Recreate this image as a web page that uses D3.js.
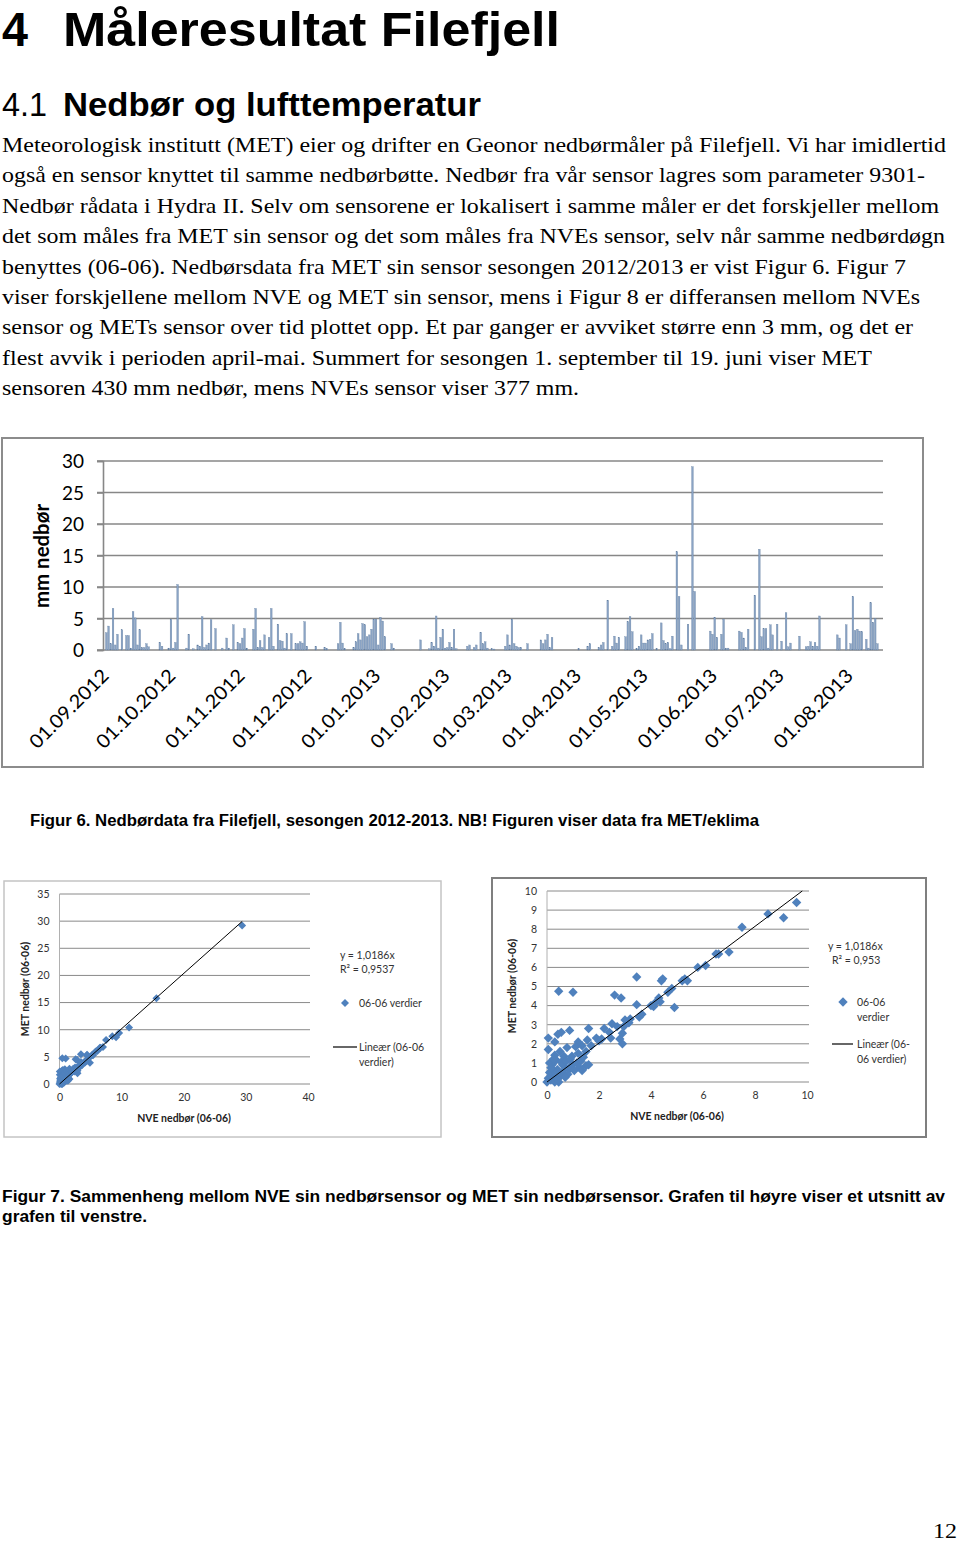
<!DOCTYPE html>
<html>
<head>
<meta charset="utf-8">
<script src="https://cdn.jsdelivr.net/npm/d3@7"></script>
<style>
  body { margin: 0; background: #fff; }
  svg { display: block; }
</style>
</head>
<body>
<svg id="page"></svg>
<script>
// ---- text content ----
const heading1 = ['4', 'Måleresultat Filefjell']
const heading2 = ['4.1', 'Nedbør og lufttemperatur']
const bodyLines = [
  'Meteorologisk institutt (MET) eier og drifter en Geonor nedbørmåler på Filefjell. Vi har imidlertid',
  'også en sensor knyttet til samme nedbørbøtte. Nedbør fra vår sensor lagres som parameter 9301-',
  'Nedbør rådata i Hydra II. Selv om sensorene er lokalisert i samme måler er det forskjeller mellom',
  'det som måles fra MET sin sensor og det som måles fra NVEs sensor, selv når samme nedbørdøgn',
  'benyttes (06-06). Nedbørsdata fra MET sin sensor sesongen 2012/2013 er vist Figur 6. Figur 7',
  'viser forskjellene mellom NVE og MET sin sensor, mens i Figur 8 er differansen mellom NVEs',
  'sensor og METs sensor over tid plottet opp. Et par ganger er avviket større enn 3 mm, og det er',
  'flest avvik i perioden april-mai.  Summert for sesongen 1. september til 19. juni viser MET',
  'sensoren 430 mm nedbør, mens NVEs sensor viser 377 mm.'
]
const caption6 = 'Figur 6. Nedbørdata fra Filefjell, sesongen 2012-2013. NB! Figuren viser data fra MET/eklima'
const caption7 = [
  'Figur 7. Sammenheng mellom NVE sin nedbørsensor og MET sin nedbørsensor. Grafen til høyre viser et utsnitt av',
  'grafen til venstre.'
]
const pageNumber = '12'

// ---- figur 6: daily precipitation (MET), day number counted from 01.09.2012 ----
const seasonStart = '2012-09-01'
const seasonDays = 350
const yTicks6 = [0, 5, 10, 15, 20, 25, 30]
const wetDay = [
  1, 2, 3, 4, 5, 6, 8, 10, 11, 12, 13, 14, 15, 16, 17, 18, 19, 20, 25, 26, 29, 30, 31, 32, 33,
  37, 38, 40, 42, 43, 44, 45, 46, 47, 48, 50, 53, 55, 56, 58, 60, 61, 62, 63, 64, 67, 68, 69, 70,
  71, 72, 74, 75, 76, 78, 79, 80, 81, 82, 84, 86, 87, 88, 89, 90, 91, 95, 99, 100, 105, 106, 107,
  108, 112, 113, 114, 115, 116, 117, 118, 119, 120, 121, 122, 123, 124, 125, 126, 129, 130, 142,
  146, 147, 148, 149, 150, 151, 152, 153, 154, 155, 156, 157, 158, 163, 164, 166, 167, 169, 170,
  171, 172, 174, 175, 180, 181, 182, 183, 184, 185, 186, 187, 190, 196, 197, 198, 199, 200, 201,
  213, 217, 218, 222, 223, 224, 226, 228, 229, 230, 231, 234, 235, 236, 237, 239, 240, 241, 242,
  243, 244, 245, 246, 248, 250, 251, 252, 253, 254, 255, 257, 258, 259, 262, 264, 265, 272, 273,
  274, 275, 277, 278, 279, 280, 285, 286, 287, 288, 289, 292, 294, 295, 296, 297, 298, 299, 300,
  302, 304, 306, 307, 308, 312, 315, 316, 317, 318, 319, 320, 321, 329, 330, 333, 335, 336, 337,
  338, 339, 340, 342, 343, 344, 345, 346, 347
]
const wetMm = [
  2.75, 3.8, 1.0, 6.6, 0.8, 2.5, 3.2, 2.3, 2.3, 0.3, 6.1, 5.1, 0.8, 3.2, 0.4, 0.4, 1.0, 0.5, 1.2, 0.6, 0.3, 4.9, 0.3, 1.2, 10.4,
  0.3, 2.5, 0.2, 0.8, 0.6, 5.3, 0.4, 0.8, 1.1, 4.8, 3.4, 0.3, 1.9, 0.3, 4.0, 1.2, 1.0, 1.9, 3.4, 0.3, 3.3, 6.6, 0.4, 1.5,
  0.4, 2.4, 2.0, 6.6, 0.6, 4.1, 1.5, 1.4, 0.3, 2.6, 2.6, 1.0, 1.0, 1.3, 1.1, 4.5, 0.6, 0.6, 0.4, 0.2, 1.0, 4.4, 1.1,
  0.2, 0.4, 1.3, 2.6, 1.6, 4.2, 4.0, 2.1, 2.4, 3.3, 4.9, 4.9, 0.8, 5.2, 4.6, 2.1, 1.0, 0.3, 1.6,
  0.2, 1.2, 0.6, 5.4, 0.3, 2.0, 3.3, 0.3, 0.4, 1.2, 0.4, 3.3, 0.2, 0.6, 0.8, 0.4, 0.8, 2.8, 1.0,
  1.3, 0.3, 0.2, 0.15, 0.6, 2.4, 0.8, 4.9, 1.0, 0.6, 0.4, 0.4, 1.0, 1.6, 1.0, 1.6, 2.5, 0.4, 2.0,
  0.2, 0.6, 1.0, 0.4, 0.8, 1.2, 7.9, 0.6, 2.2, 1.1, 2.0, 2.1, 4.5, 5.3, 2.9, 0.2, 0.6, 2.4, 1.1,
  1.1, 1.6, 1.7, 2.6, 0.2, 4.3, 1.5, 1.0, 1.2, 0.2, 2.2, 15.6, 8.5, 0.8, 4.1, 29.1, 9.3, 3.0, 2.5,
  5.2, 2.0, 2.5, 4.9, 0.3, 0.3, 3.0, 2.8, 1.9, 0.4, 3.3, 8.7, 16.0, 2.1, 3.4, 3.4, 0.3, 4.0, 2.4,
  4.1, 1.4, 5.9, 0.5, 1.1, 2.2, 0.5, 0.6, 1.3, 0.6, 1.2, 0.6, 5.4, 2.4, 1.9, 4.0, 1.0, 8.5, 3.1,
  3.3, 3.0, 2.9, 1.7, 0.3, 7.5, 4.4, 5.0, 1.0
]

// ---- figur 7: NVE vs MET (06-06 values) ----
const nveMm = [
  29.4, 15.6, 11.2, 9.6, 9.1, 8.5, 7.5, 7.0, 6.6, 6.5, 6.1, 5.8, 5.4, 5.3, 5.2, 4.9, 4.8, 4.65, 4.4, 4.45,
  4.35, 4.3, 4.2, 4.1, 4.0, 3.65, 3.55, 3.45, 3.45, 3.2, 3.15, 3.0, 2.95, 2.9, 2.8, 2.85, 2.6, 2.9, 2.7, 2.5,
  2.4, 2.2, 1.9, 1.7, 1.6, 1.55, 1.6, 1.5, 1.5, 1.35, 1.2, 1.1, 1.0, 0.45, 0.87, 0.55, 0.42, 0.3, 0.05, 0.05,
  0.77, 0.96, 2.45, 2.0, 2.1, 0.9, 0.7, 0.6, 0.4, 0.25, 0.15, 0.2, 0.35, 0.55, 0.65, 0.85, 1.0, 1.15, 1.3, 1.25,
  1.4, 0.1, 0.05, 0.3, 0.45, 0.2, 0.5, 0.8, 1.05, 0.3, 0.1, 0.6, 0.75, 0.15, 0.0, 0.35, 1.2, 0.9, 0.5, 0.25,
  0.7, 1.35, 0.4
]
const metMm = [
  29.2, 15.8, 10.4, 9.4, 8.6, 8.8, 8.1, 6.8, 6.7, 6.7, 6.1, 6.0, 5.3, 5.4, 5.3, 3.9, 4.9, 4.7, 5.3, 5.4,
  4.2, 4.4, 4.2, 3.95, 4.0, 3.55, 3.4, 5.5, 4.05, 3.3, 3.1, 3.25, 2.9, 2.0, 2.25, 4.4, 4.55, 2.55, 2.9, 3.05,
  2.6, 2.8, 2.3, 1.9, 2.8, 2.2, 0.9, 0.85, 1.6, 1.9, 2.1, 1.85, 4.7, 4.75, 2.7, 2.6, 2.5, 2.1, 2.3, 1.7,
  1.8, 1.35, 2.3, 2.15, 2.25, 0.8, 0.75, 0.5, 0.65, 0.3, 0.1, 0.9, 1.15, 1.05, 1.35, 0.65, 0.9, 1.0, 1.1, 0.75,
  1.3, 0.5, 0.2, 0.0, 0.0, 0.6, 0.3, 0.4, 0.6, 1.4, 1.0, 0.9, 1.1, 0.75, 0.0, 0.45, 1.5, 1.2, 1.6, 1.2,
  0.25, 0.6, 0.15
]
const trendSlope = 1.0186
const legendFull = ['y = 1,0186x', 'R² = 0,9537']
const legendZoom = ['y = 1,0186x', 'R² = 0,953']

// ---- page ----
const W = 960, H = 1544
const svg = d3.select('#page').attr('width', W).attr('height', H)
svg.append('rect').attr('width', W).attr('height', H).attr('fill', '#fff')

const SANS = '"Liberation Sans", Arial, sans-serif'
const SERIF = '"Liberation Serif", "Times New Roman", serif'
const CHART = 'Lato, "Open Sans", sans-serif'

function txt(g, s, x, y, o = {}) {
  const t = g.append('text')
    .attr('x', x).attr('y', y)
    .attr('font-family', o.family || SANS)
    .attr('font-size', o.size || 12)
    .attr('font-weight', o.weight || 'normal')
    .attr('fill', o.fill || '#000')
    .attr('text-anchor', o.anchor || 'start')
    .text(s)
  if (o.len) t.attr('textLength', o.len).attr('lengthAdjust', 'spacingAndGlyphs')
  if (o.transform) t.attr('transform', o.transform)
  return t
}

// headings
txt(svg, heading1[0], 2, 46, { size: 49, weight: 'bold', len: 26 })
txt(svg, heading1[1], 63, 46, { size: 49, weight: 'bold', len: 497 })
txt(svg, heading2[0], 2, 116, { size: 34, len: 45 })
txt(svg, heading2[1], 63, 116, { size: 34, weight: 'bold', len: 418 })

// body text
const bodyWidths = [944, 923, 937, 943, 904, 918, 911, 870, 577]
bodyLines.forEach((s, i) => {
  txt(svg, s, 2, 152 + i * 30.4, { family: SERIF, size: 22, len: bodyWidths[i] })
})

// ================= Figur 6 =================
const f6 = svg.append('g')
f6.append('rect').attr('x', 2).attr('y', 438).attr('width', 921).attr('height', 329)
  .attr('fill', '#fff').attr('stroke', '#8c8c8c').attr('stroke-width', 2)

const t0 = d3.utcParse('%Y-%m-%d')(seasonStart)
const t1 = d3.utcDay.offset(t0, seasonDays)
const x6 = d3.scaleUtc().domain([t0, t1]).range([103, 883])
const y6 = d3.scaleLinear().domain([0, 30]).range([650, 461])

// gridlines
f6.append('g').selectAll('line').data(yTicks6).join('line')
  .attr('x1', 97).attr('x2', 883)
  .attr('y1', d => y6(d)).attr('y2', d => y6(d))
  .attr('stroke', '#878787').attr('stroke-width', 1.6)

// y axis
const yAx6 = f6.append('g').attr('transform', 'translate(103,0)')
  .call(d3.axisLeft(y6).tickValues(yTicks6).tickSize(6).tickPadding(13))
yAx6.select('.domain').attr('stroke', '#878787').attr('stroke-width', 1.6)
yAx6.selectAll('.tick line').attr('stroke', '#878787').attr('stroke-width', 1.6)
yAx6.selectAll('.tick text').attr('font-family', CHART).attr('font-size', 19).attr('fill', '#000')
  .attr('dy', '0.36em')

txt(f6, 'mm nedbør', 0, 0, {
  family: CHART, size: 20, weight: 'bold', anchor: 'middle', len: 104,
  transform: 'translate(49,556) rotate(-90)'
})

// bars
const bars = wetDay.map((d, i) => ({ date: d3.utcDay.offset(t0, d), v: wetMm[i] }))
const dayW = x6(d3.utcDay.offset(t0, 1)) - x6(t0)
const bw = 1.7
f6.append('g').selectAll('rect').data(bars).join('rect')
  .attr('x', d => x6(d.date) + (dayW - bw) / 2)
  .attr('width', bw)
  .attr('y', d => y6(d.v))
  .attr('height', d => y6(0) - y6(d.v))
  .attr('fill', '#8aa3c4')
  .attr('stroke', '#617d9f').attr('stroke-width', 0.3)

// month labels
const fmt = d3.utcFormat('%d.%m.%Y')
const months = d3.utcMonth.range(t0, t1)
f6.append('g').selectAll('text').data(months).join('text')
  .attr('transform', d => `translate(${x6(d) + 7},677) rotate(-45)`)
  .attr('text-anchor', 'end')
  .attr('font-family', CHART).attr('font-size', 19)
  .attr('textLength', 103).attr('lengthAdjust', 'spacingAndGlyphs')
  .text(d => fmt(d))

txt(svg, caption6, 30, 826, { size: 16, weight: 'bold', len: 729 })

// ================= Figur 7 =================
const pts = nveMm.map((v, i) => ({ nve: v, met: metMm[i] }))

function scatter(cfg) {
  const g = svg.append('g')
  g.append('rect').attr('x', cfg.box[0]).attr('y', cfg.box[1])
    .attr('width', cfg.box[2]).attr('height', cfg.box[3])
    .attr('fill', '#fff').attr('stroke', cfg.border).attr('stroke-width', cfg.borderW)

  const x = d3.scaleLinear().domain([0, cfg.max[0]]).range(cfg.xr)
  const y = d3.scaleLinear().domain([0, cfg.max[1]]).range(cfg.yr)
  const diamond = d3.symbol(d3.symbolSquare, cfg.dot)

  g.append('g').selectAll('line').data(cfg.yt).join('line')
    .attr('x1', cfg.xr[0]).attr('x2', cfg.xr[1] + 2)
    .attr('y1', d => y(d)).attr('y2', d => y(d))
    .attr('stroke', '#8a8a8a').attr('stroke-width', 1)
  g.append('line').attr('x1', cfg.xr[0]).attr('x2', cfg.xr[0])
    .attr('y1', cfg.yr[0]).attr('y2', cfg.yr[1])
    .attr('stroke', '#b0b0b0').attr('stroke-width', 1)

  const ya = g.append('g').attr('transform', `translate(${cfg.xr[0]},0)`)
    .call(d3.axisLeft(y).tickValues(cfg.yt).tickSize(0).tickPadding(10))
  const xa = g.append('g').attr('transform', `translate(0,${cfg.yr[0]})`)
    .call(d3.axisBottom(x).tickValues(cfg.xt).tickSize(0).tickPadding(10))
  for (const a of [ya, xa]) {
    a.select('.domain').remove()
    a.selectAll('text').attr('font-family', CHART).attr('font-size', 10.5).attr('fill', '#333')
  }

  txt(g, 'MET nedbør (06-06)', 0, 0, {
    family: CHART, size: 10.5, weight: 'bold', anchor: 'middle', fill: '#222',
    transform: `translate(${cfg.yTitle[0]},${cfg.yTitle[1]}) rotate(-90)`
  })
  txt(g, 'NVE nedbør (06-06)', cfg.xTitle[0], cfg.xTitle[1], {
    family: CHART, size: 10.5, weight: 'bold', anchor: 'middle', fill: '#222'
  })

  const shown = pts.filter(d => d.nve <= cfg.max[0] && d.met <= cfg.max[1])
  g.append('g').selectAll('path').data(shown).join('path')
    .attr('d', diamond)
    .attr('transform', d => `translate(${x(d.nve)},${y(d.met)}) rotate(45)`)
    .attr('fill', '#4f81bd')

  // trend line y = slope * x, through origin
  const xEnd = cfg.clipLine ? cfg.max[1] / trendSlope : d3.max(shown, d => d.nve)
  g.append('line')
    .attr('x1', x(0)).attr('y1', y(0))
    .attr('x2', x(xEnd)).attr('y2', y(trendSlope * xEnd))
    .attr('stroke', '#000').attr('stroke-width', 1)

  // legend
  const L = cfg.leg
  txt(g, cfg.eq[0], L.eq[0], L.eq[1], { family: CHART, size: 10.5, fill: '#333' })
  txt(g, cfg.eq[1], L.eq[0] + L.r2dx, L.eq[1] + 14, { family: CHART, size: 10.5, fill: '#333' })
  g.append('path').attr('d', diamond).attr('fill', '#4f81bd')
    .attr('transform', `translate(${L.dot[0]},${L.dot[1]}) rotate(45)`)
  L.dotText.forEach((s, i) => txt(g, s, L.dotX, L.dot[1] + 4 + i * 15, { family: CHART, size: 10.5, fill: '#333' }))
  g.append('line').attr('x1', L.line[0]).attr('x2', L.line[1])
    .attr('y1', L.line[2]).attr('y2', L.line[2]).attr('stroke', '#000').attr('stroke-width', 1.2)
  L.lineText.forEach((s, i) => txt(g, s, L.dotX, L.line[2] + 4 + i * 15, { family: CHART, size: 10.5, fill: '#333' }))
}

scatter({
  box: [4, 881, 437, 256], border: '#c4c4c4', borderW: 1.5, dot: 32,
  max: [40, 35], xr: [59.5, 308], yr: [1084, 894],
  xt: [0, 10, 20, 30, 40], yt: [0, 5, 10, 15, 20, 25, 30, 35],
  yTitle: [29, 989], xTitle: [184, 1122],
  eq: legendFull, clipLine: false,
  leg: {
    eq: [340, 959], r2dx: 0, dot: [345, 1003], dotX: 359,
    dotText: ['06-06 verdier'], line: [333, 357, 1047], lineText: ['Lineær (06-06', 'verdier)']
  }
})

scatter({
  box: [492, 878, 434, 259], border: '#7f7f7f', borderW: 2, dot: 44,
  max: [10, 10], xr: [547, 807], yr: [1082, 891],
  xt: [0, 2, 4, 6, 8, 10], yt: [0, 1, 2, 3, 4, 5, 6, 7, 8, 9, 10],
  yTitle: [516, 986], xTitle: [677, 1120],
  eq: legendZoom, clipLine: true,
  leg: {
    eq: [828, 950], r2dx: 4, dot: [843, 1002], dotX: 857,
    dotText: ['06-06', 'verdier'], line: [832, 853, 1044], lineText: ['Lineær (06-', '06 verdier)']
  }
})

txt(svg, caption7[0], 2, 1202, { size: 16, weight: 'bold', len: 943 })
txt(svg, caption7[1], 2, 1222, { size: 16, weight: 'bold', len: 145 })

txt(svg, pageNumber, 933, 1538, { family: SERIF, size: 20, len: 24 })
</script>
</body>
</html>
